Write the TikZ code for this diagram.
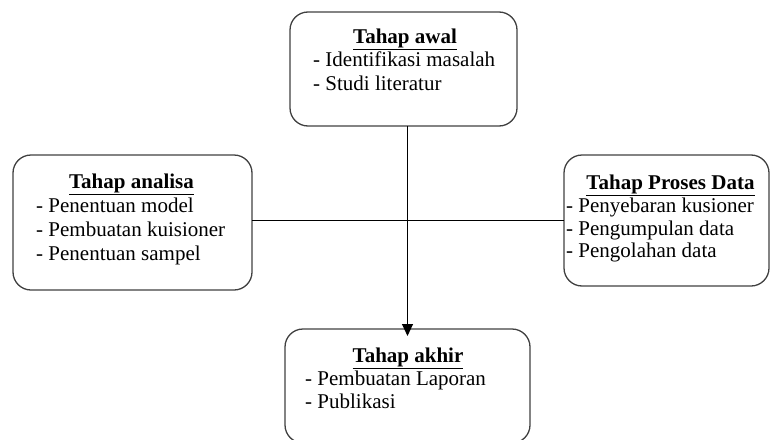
\documentclass[tikz,border=0pt]{standalone}
\usepackage{fontspec}
\setmainfont{Liberation Serif}
\usetikzlibrary{arrows.meta}

\begin{document}
\begin{tikzpicture}[x=1pt,y=-1pt,
		kotak/.style={draw=black!75,line width=1.3pt,rounded corners=18pt,inner sep=0pt,outer sep=0pt},
		judul/.style={anchor=base,inner sep=0pt,font=\fontsize{21}{23.5}\selectfont\bfseries},
		isi/.style={anchor=base west,inner sep=0pt,font=\fontsize{21}{23.5}\selectfont}]
		\clip (0,0) rectangle (770,439);
		% kotak tahap
		\node[kotak,minimum width=227,minimum height=114] (awal) at (403.5,69) {};
		\node[kotak,minimum width=239,minimum height=135] (analisa) at (132.5,222.5) {};
		\node[kotak,minimum width=205,minimum height=131] (proses) at (666.5,220.5) {};
		\node[kotak,minimum width=245,minimum height=114] (akhir) at (407.5,386) {};
		% isi kotak
		\node[judul] (awalj) at (405,43) {\underline{Tahap awal}};
		\foreach \t [count=\i] in {Identifikasi masalah,Studi literatur}
			\node[isi] (awal-\i) at (313,43+23.5*\i) {- \t};
		\node[judul] (analisaj) at (131.5,188) {\underline{Tahap analisa}};
		\foreach \t [count=\i] in {Penentuan model,Pembuatan kuisioner,Penentuan sampel}
			\node[isi] (analisa-\i) at (36,189+23.8*\i) {- \t};
		\node[judul] (prosesj) at (670.5,189) {\underline{Tahap Proses Data}};
		\foreach \t [count=\i] in {Penyebaran kusioner,Pengumpulan data,Pengolahan data}
			\node[isi] (proses-\i) at (566,190+22.5*\i) {- \t};
		\node[judul] (akhirj) at (408,362) {\underline{Tahap akhir}};
		\foreach \t [count=\i] in {Pembuatan Laporan,Publikasi}
			\node[isi] (akhir-\i) at (305,362+23*\i) {- \t};
		% garis
		\draw[line width=1pt] (proses.west -| analisa.east) -- (proses.west);
		\draw[line width=1pt,-{Triangle[width=11pt,length=12pt]},shorten >=-7pt] (akhir.north |- awal.south) -- (akhir.north);
	\end{tikzpicture}
\end{document}
